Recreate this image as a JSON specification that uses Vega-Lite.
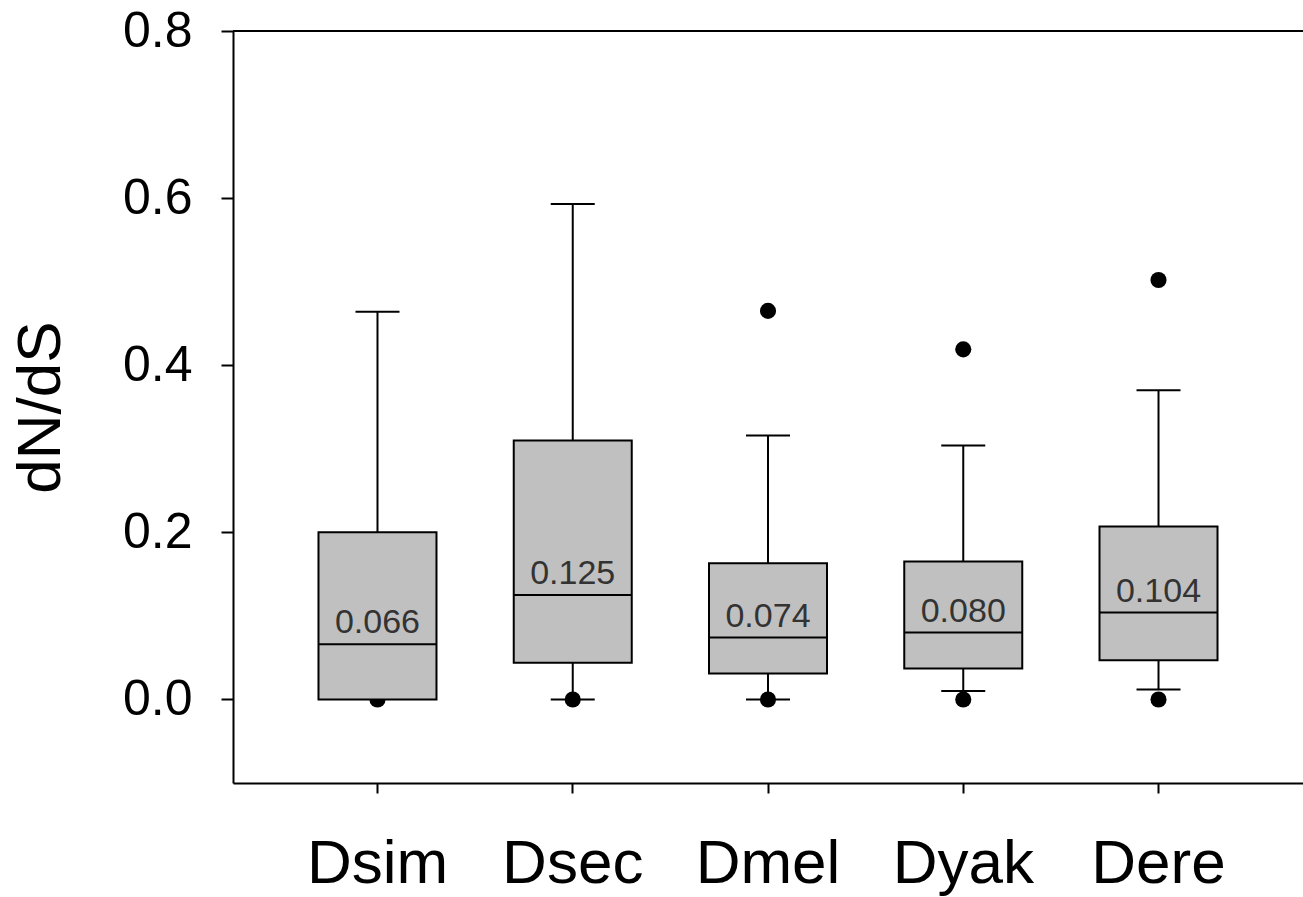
{
  "$schema": "https://vega.github.io/schema/vega-lite/v6.json",
  "autosize": "none",
  "width": 1070,
  "height": 752,
  "padding": {"left": 233, "top": 31, "right": 0, "bottom": 114},
  "background": "white",
  "config": {
    "view": {"stroke": null},
    "font": "Liberation Sans",
    "axis": {"grid": false, "domainColor": "black", "domainWidth": 2, "tickColor": "black", "tickWidth": 2, "labelColor": "black", "titleColor": "black", "labelFont": "Liberation Sans", "titleFont": "Liberation Sans", "titleFontWeight": "normal"}
  },
  "datasets": {
    "boxes": [
      {"species": "Dsim", "low": 0.0, "q1": 0.0, "median": 0.066, "q3": 0.200, "high": 0.464},
      {"species": "Dsec", "low": 0.0, "q1": 0.044, "median": 0.125, "q3": 0.310, "high": 0.593},
      {"species": "Dmel", "low": 0.0, "q1": 0.031, "median": 0.074, "q3": 0.163, "high": 0.316},
      {"species": "Dyak", "low": 0.010, "q1": 0.037, "median": 0.080, "q3": 0.165, "high": 0.304},
      {"species": "Dere", "low": 0.012, "q1": 0.047, "median": 0.104, "q3": 0.207, "high": 0.370}
    ],
    "outliers": [
      {"species": "Dsim", "value": 0.0},
      {"species": "Dsec", "value": 0.0},
      {"species": "Dmel", "value": 0.0},
      {"species": "Dmel", "value": 0.465},
      {"species": "Dyak", "value": 0.0},
      {"species": "Dyak", "value": 0.419},
      {"species": "Dere", "value": 0.0},
      {"species": "Dere", "value": 0.502}
    ]
  },
  "encoding": {
    "x": {
      "field": "species", "type": "nominal",
      "sort": ["Dsim", "Dsec", "Dmel", "Dyak", "Dere"],
      "scale": {"paddingInner": 0, "paddingOuter": 0.24},
      "axis": {"title": null, "labelAngle": 0, "labelFontSize": 62, "tickSize": 10, "labelPadding": 40, "domain": true}
    }
  },
  "layer": [
    {
      "data": {"values": [{"top": 0.8}]},
      "mark": {"type": "rule", "color": "black", "strokeWidth": 2},
      "encoding": {"x": null, "y": {"field": "top", "type": "quantitative", "scale": {"domain": [-0.1, 0.8]}}}
    },
    {
      "data": {"name": "outliers"},
      "mark": {"type": "point", "filled": true, "color": "black", "opacity": 1, "size": 260},
      "encoding": {
        "y": {
          "field": "value", "type": "quantitative",
          "scale": {"domain": [-0.1, 0.8], "nice": false, "zero": false},
          "axis": {"title": "dN/dS", "titleFontSize": 62, "titlePadding": 50, "values": [0, 0.2, 0.4, 0.6, 0.8], "format": ".1f", "labelFontSize": 50, "tickSize": 12, "labelPadding": 29}
        }
      }
    },
    {
      "data": {"name": "boxes"},
      "mark": {"type": "rule", "color": "black", "strokeWidth": 2},
      "encoding": {"y": {"field": "low", "type": "quantitative"}, "y2": {"field": "q1"}}
    },
    {
      "data": {"name": "boxes"},
      "mark": {"type": "rule", "color": "black", "strokeWidth": 2},
      "encoding": {"y": {"field": "q3", "type": "quantitative"}, "y2": {"field": "high"}}
    },
    {
      "data": {"name": "boxes"},
      "mark": {"type": "bar", "size": 118, "fill": "#c0c0c0", "stroke": "black", "strokeWidth": 2},
      "encoding": {"y": {"field": "q1", "type": "quantitative"}, "y2": {"field": "q3"}}
    },
    {
      "data": {"name": "boxes"},
      "mark": {"type": "tick", "size": 118, "thickness": 2, "color": "black", "opacity": 1},
      "encoding": {"y": {"field": "median", "type": "quantitative"}}
    },
    {
      "data": {"name": "boxes"},
      "transform": [{"filter": "datum.low < datum.q1"}],
      "mark": {"type": "tick", "size": 44, "thickness": 2, "color": "black", "opacity": 1},
      "encoding": {"y": {"field": "low", "type": "quantitative"}}
    },
    {
      "data": {"name": "boxes"},
      "mark": {"type": "tick", "size": 44, "thickness": 2, "color": "black", "opacity": 1},
      "encoding": {"y": {"field": "high", "type": "quantitative"}}
    },
    {
      "data": {"name": "boxes"},
      "mark": {"type": "text", "fontSize": 34, "color": "#333333", "baseline": "alphabetic", "dy": -11, "font": "Liberation Sans"},
      "encoding": {"y": {"field": "median", "type": "quantitative"}, "text": {"field": "median", "type": "quantitative", "format": ".3f"}}
    }
  ]
}
